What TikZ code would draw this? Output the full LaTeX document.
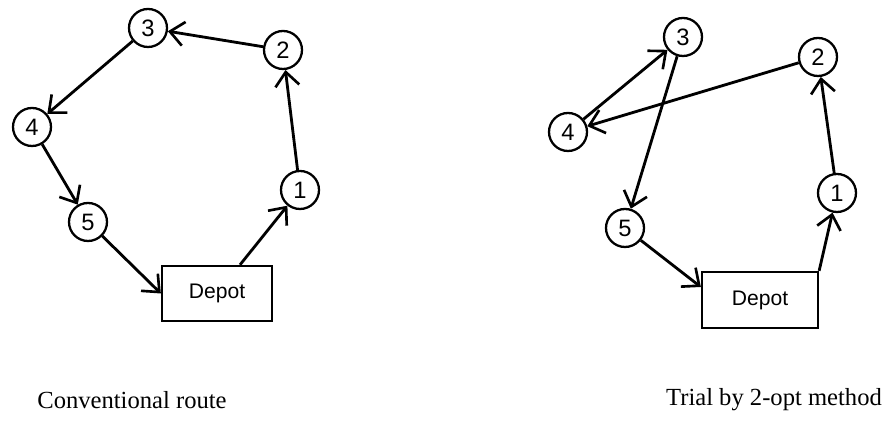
\documentclass[tikz,border=0pt]{standalone}
\usepackage{fontspec}
\setmainfont{Liberation Serif}
\newfontfamily\labelfont{Liberation Sans}
\usetikzlibrary{arrows.meta, positioning}

\begin{document}
\begin{tikzpicture}[
    stopNode/.style={circle, draw=black, line width=1.3pt, minimum size=0.76cm, inner sep=0pt, font=\labelfont\fontsize{13.5}{15}\selectfont},
    depotNode/.style={rectangle, draw=black, line width=1.3pt, minimum width=2.2cm, minimum height=1.1cm, font=\labelfont\fontsize{12}{14}\selectfont},
    routeEdge/.style={-{Straight Barb[length=2.8mm, width=4.8mm, line width=1.5pt]}, line width=1.6pt},
    captionText/.style={font=\fontsize{14}{16}\selectfont}
]
    \useasboundingbox (0,0) rectangle (17.74,8.76);

    % Conventional route
    \node[stopNode] (a3) at (2.96, 8.20) {3};
    \node[stopNode] (a2) at (5.66, 7.76) {2};
    \node[stopNode] (a4) at (0.64, 6.22) {4};
    \node[stopNode] (a5) at (1.76, 4.32) {5};
    \node[stopNode] (a1) at (6.00, 4.96) {1};
    \node[depotNode] (aDepot) at (4.34, 2.89) {Depot};

    \draw[routeEdge] ([xshift=0.46cm]aDepot.north) -- (a1);
    \draw[routeEdge] (a1) -- (a2);
    \draw[routeEdge] (a2) -- (a3);
    \draw[routeEdge] (a3) -- (a4);
    \draw[routeEdge] (a4) -- (a5);
    \draw[routeEdge] (a5) -- (aDepot.west);

    % Trial by 2-opt
    \node[stopNode] (b3) at (13.66, 8.02) {3};
    \node[stopNode] (b2) at (16.36, 7.62) {2};
    \node[stopNode] (b4) at (11.36, 6.12) {4};
    \node[stopNode] (b5) at (12.50, 4.20) {5};
    \node[stopNode] (b1) at (16.74, 4.90) {1};
    \node[depotNode, minimum width=2.32cm, minimum height=1.12cm] (bDepot) at (15.20, 2.76) {Depot};

    \draw[routeEdge] (bDepot.north east) -- (b1);
    \draw[routeEdge] (b1) -- (b2);
    \draw[routeEdge] (b2) -- (b4);
    \draw[routeEdge] (b4) -- (b3);
    \draw[routeEdge] (b3) -- (b5);
    \draw[routeEdge] (b5) -- ([yshift=0.26cm]bDepot.west);

    % Captions
    \node[captionText] (capA) at (2.64, 0.76) {Conventional route};
    \node[captionText] (capB) at (15.48, 0.76) {Trial by 2-opt method};
\end{tikzpicture}
\end{document}
